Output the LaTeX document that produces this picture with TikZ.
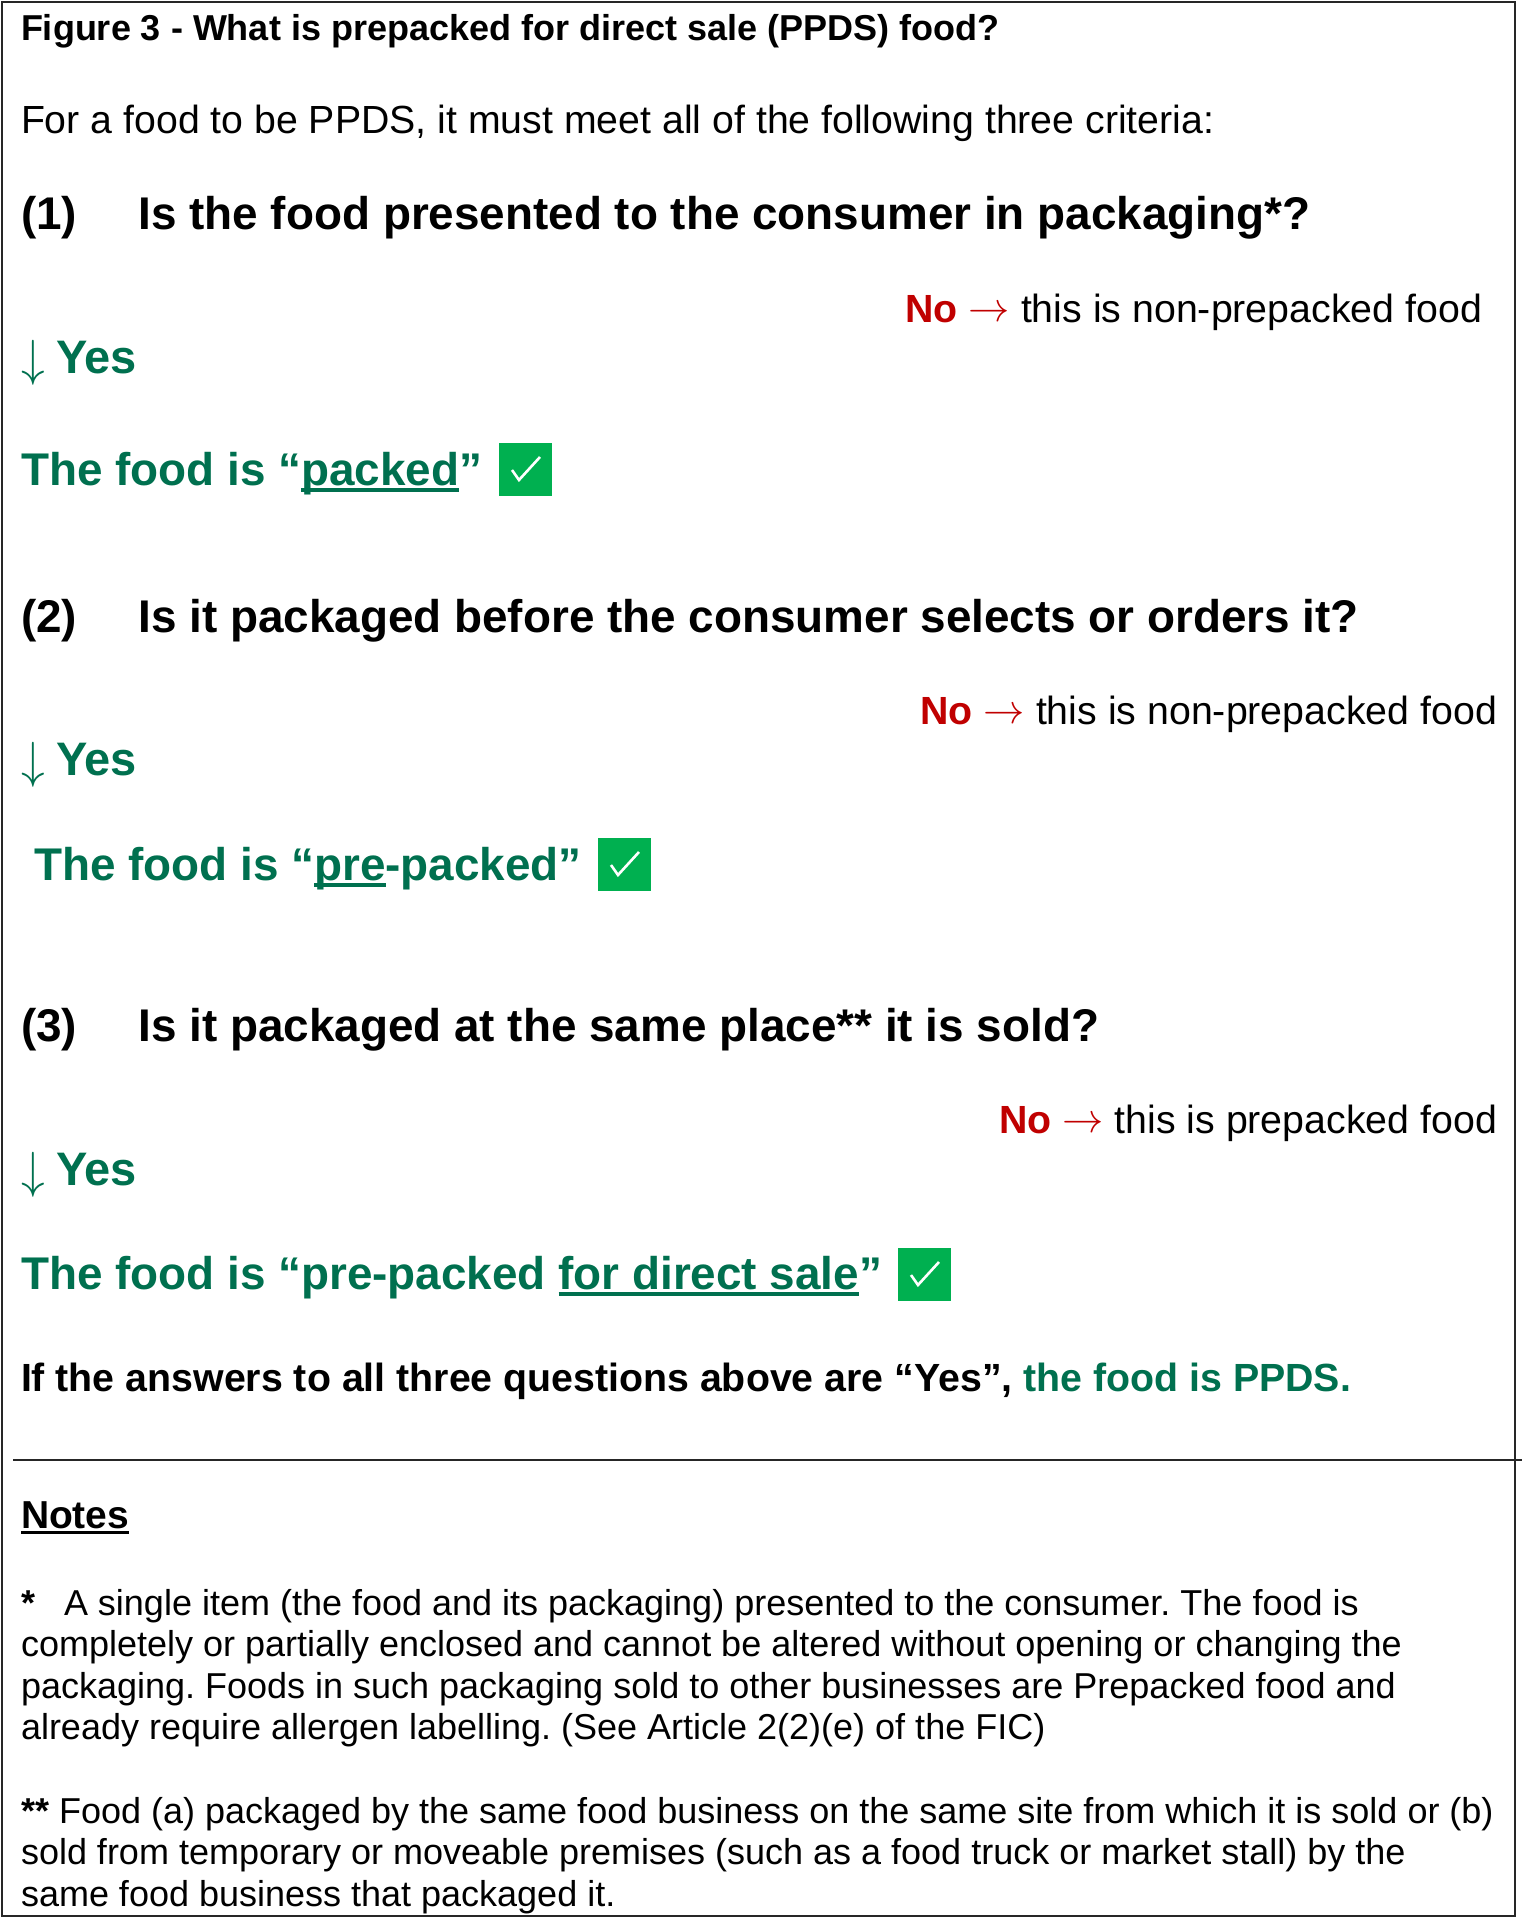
\documentclass[tikz,border=0pt]{standalone}
\usepackage{fontspec}
\setmainfont{Liberation Sans}
\frenchspacing
\definecolor{ygreen}{HTML}{00704F}
\definecolor{boxgreen}{HTML}{00B050}
\definecolor{nored}{HTML}{C00000}
\newcommand{\fs}[1]{\fontsize{#1pt}{#1pt}\selectfont}
\newcommand{\ul}[1]{\leavevmode\sbox0{#1}\rlap{\rule[-0.145em]{\wd0}{0.08em}}#1}
\newcommand{\rarr}{\raisebox{0.02em}{\scalebox{1.66}{$\rightarrow$}}}
\newcommand{\darr}{\raisebox{-0.05em}{\scalebox{1.9}[2.04]{$\downarrow$}}}
\tikzset{
 x=1pt,y=-1pt,
 txt/.style={anchor=base west,inner sep=0pt,outer sep=0pt,text=black},
 title/.style={txt,font=\fs{36}\bfseries},
 body/.style={txt,font=\fs{39.25}},
 question/.style={txt,font=\fs{45.85}\bfseries},
 notehead/.style={txt,font=\fs{39}\bfseries},
 noteline/.style={txt,font=\fs{36}},
 yes/.style={txt,font=\fs{47}\bfseries,text=ygreen},
 result/.style={txt,font=\fs{45.85}\bfseries,text=ygreen},
 noans/.style={anchor=base east,inner sep=0pt,outer sep=0pt,font=\fs{39.3}},
 summary/.style={txt,font=\fs{39.3}\bfseries},
 tickbox/.style={fill=boxgreen,draw=none,minimum width=53pt,minimum height=53pt,inner sep=0pt,anchor=north west},
 rule/.style={draw=black!85,line width=2pt},
}
\newcommand{\tickmark}[1]{\draw[white,line width=2.6pt] ([xshift=13pt,yshift=-27pt]#1.north west) -- ([xshift=20pt,yshift=-37pt]#1.north west) -- ([xshift=41pt,yshift=-14pt]#1.north west);}
\begin{document}
\begin{tikzpicture}
\useasboundingbox (0,0) rectangle (1522,1918);
\draw[rule] (2,2) -- (1515,2) -- (1515,1916) -- (2,1916) -- cycle;
\coordinate (sepa) at (13,1459.5);
\coordinate (sepb) at (1522,1459.5);
\draw[rule] (sepa) -- (sepb);
\node[title] (t) at (21,41) {Figure 3 - What is prepacked for direct sale (PPDS) food?};
\node[body] (intro) at (21,134) {For a food to be PPDS, it must meet all of the following three criteria:};

\node[question] (q1n) at (21,230) {(1)};
\node[question] (q1) at (138.5,230) {Is the food presented to the consumer in packaging*?};
\node[noans] (no1) at (1482,322) {\textcolor{nored}{\textbf{No} \rarr} this is non-prepacked food};
\node[yes] (a1) at (21,373) {\darr};
\node[yes] (y1) at (56,373) {Yes};
\node[result] (r1) at (21,485) {The food is “\ul{packed}”};
\node[tickbox] (b1) at (499,443) {};
\tickmark{b1}

\node[question] (q2n) at (21,632) {(2)};
\node[question] (q2) at (138.5,632) {Is it packaged before the consumer selects or orders it?};
\node[noans] (no2) at (1497,724) {\textcolor{nored}{\textbf{No} \rarr} this is non-prepacked food};
\node[yes] (a2) at (21,775) {\darr};
\node[yes] (y2) at (56,775) {Yes};
\node[result] (r2) at (34,880) {The food is “\ul{pre}-packed”};
\node[tickbox] (b2) at (598,838) {};
\tickmark{b2}

\node[question] (q3n) at (21,1041) {(3)};
\node[question] (q3) at (138.5,1041) {Is it packaged at the same place** it is sold?};
\node[noans] (no3) at (1497,1133) {\textcolor{nored}{\textbf{No} \rarr} this is prepacked food};
\node[yes] (a3) at (21,1185) {\darr};
\node[yes] (y3) at (56,1185) {Yes};
\node[result] (r3) at (21,1289) {The food is “pre-packed \ul{for direct sale}”};
\node[tickbox] (b3) at (898,1248) {};
\tickmark{b3}

\node[summary] (s) at (21,1391) {If the answers to all three questions above are “Yes”, \textcolor{ygreen}{the food is PPDS.}};
\node[notehead] (n) at (21,1528) {\ul{Notes}};

\node[noteline] (s1) at (21,1615) {\textbf{*}};
\node[noteline] (l1) at (64,1615) {A single item (the food and its packaging) presented to the consumer. The food is};
\node[noteline] (l2) at (21,1656.5) {completely or partially enclosed and cannot be altered without opening or changing the};
\node[noteline] (l3) at (21,1698) {packaging. Foods in such packaging sold to other businesses are Prepacked food and};
\node[noteline] (l4) at (21,1739.5) {already require allergen labelling. (See Article 2(2)(e) of the FIC)};
\node[noteline] (c1) at (21,1823) {\textbf{**} Food (a) packaged by the same food business on the same site from which it is sold or (b)};
\node[noteline] (c2) at (21,1864.5) {sold from temporary or moveable premises (such as a food truck or market stall) by the};
\node[noteline] (c3) at (21,1906) {same food business that packaged it.};
\end{tikzpicture}
\end{document}
